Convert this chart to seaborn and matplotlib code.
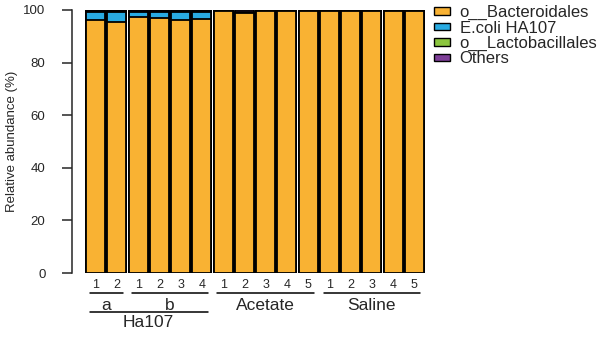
import numpy as np
import pandas as pd
import matplotlib
matplotlib.use("Agg")
import matplotlib.pyplot as plt
import seaborn as sns
from matplotlib.patches import Patch
from matplotlib.transforms import blended_transform_factory

# =========================
# 数据
# =========================
samples = ["a1", "a2", "b1", "b2", "b3", "b4",
           "ac1", "ac2", "ac3", "ac4", "ac5",
           "s1", "s2", "s3", "s4", "s5"]
tick_labels = ["1", "2", "1", "2", "3", "4",
               "1", "2", "3", "4", "5",
               "1", "2", "3", "4", "5"]
bacteroidales = [96.2, 95.6, 97.2, 96.8, 96.2, 96.7,
                 99.6, 99.0, 99.6, 99.6, 99.7,
                 99.6, 99.7, 99.6, 99.7, 99.6]
ecoli = [3.2, 3.8, 2.2, 2.6, 3.2, 2.7,
         0, 0, 0, 0, 0,
         0, 0, 0, 0, 0]
lactobacillales = [0.1] * 16
taxa = ["o__Bacteroidales", "E.coli HA107", "o__Lactobacillales", "Others"]
colors = ["#F9B233", "#29ABE2", "#8CC63F", "#7E3F98"]

# groups: (label, first bar, last bar, level)
groups = [("a", 0, 1, 0), ("b", 2, 5, 0), ("Acetate", 6, 10, 0),
          ("Saline", 11, 15, 0), ("Ha107", 0, 5, 1)]

df = pd.DataFrame({"sample": samples,
                   "o__Bacteroidales": bacteroidales,
                   "E.coli HA107": ecoli,
                   "o__Lactobacillales": lactobacillales})
df["Others"] = 100 - df[taxa[:3]].sum(axis=1)

# cumulative sums for stacked look
cum = df[taxa].cumsum(axis=1)
cum["sample"] = df["sample"]

# =========================
# 画图
# =========================
sns.set_style("ticks")
plt.rcParams["font.family"] = ["Liberation Sans", "DejaVu Sans"]

fig = plt.figure(figsize=(6.15, 3.38), dpi=100)
ax = fig.add_axes([85 / 615, (338 - 273) / 338, 340 / 615, 263 / 338])

for name, col in reversed(list(zip(taxa, colors))):
    sns.barplot(data=cum, x="sample", y=name, order=samples, color=col,
                saturation=1, width=0.9, edgecolor="black", linewidth=1.3,
                ax=ax)

ax.set_xlim(-0.5, 15.5)
ax.set_ylim(0, 100)
ax.set_yticks(np.arange(0, 101, 20))
ax.tick_params(axis="y", labelsize=9.5, length=7, width=1.1, pad=12)
ax.set_xticks(range(len(samples)))
ax.set_xticklabels(tick_labels)
ax.tick_params(axis="x", labelsize=9, length=0, pad=4)
ax.set_xlabel("")
ax.set_ylabel("Relative abundance (%)", fontsize=9.5)
ax.yaxis.set_label_coords(-(85 - 18) / 340, 0.5)

for s in ["top", "right", "bottom"]:
    ax.spines[s].set_visible(False)
ax.spines["left"].set_position(("outward", 9.4))
ax.spines["left"].set_linewidth(1.1)

# group brackets under the axis
trans = blended_transform_factory(ax.transData, ax.transAxes)
line_y = {0: -0.076, 1: -0.148}
text_y = {0: -0.122, 1: -0.19}
for label, i0, i1, lvl in groups:
    ax.plot([i0 - 0.27, i1 + 0.27], [line_y[lvl]] * 2, color="black",
            lw=1.1, transform=trans, clip_on=False)
    ax.text((i0 + i1) / 2, text_y[lvl], label, transform=trans,
            ha="center", va="center", fontsize=12.5)

# legend
handles = [Patch(facecolor=c, edgecolor="black", linewidth=1) for c in colors]
fig.legend(handles, taxa, loc="upper left",
           bbox_to_anchor=(432 / 615, 0.99),
           frameon=False, fontsize=12, handlelength=1.0, handleheight=0.3,
           handletextpad=0.55, labelspacing=0.02, borderaxespad=0.0,
           borderpad=0.1)

plt.savefig("out.png", dpi=100)
